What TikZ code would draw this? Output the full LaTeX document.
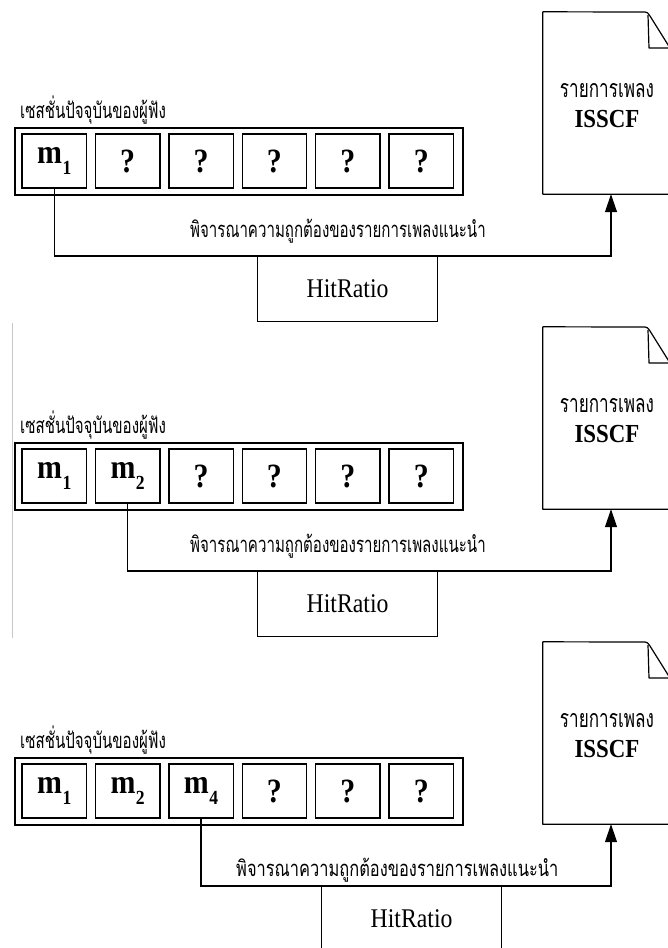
\documentclass[tikz,border=0pt]{standalone}
\usepackage{fontspec}
\usepackage{graphicx}
\setmainfont{Liberation Serif}[FakeStretch=0.88]
\newfontfamily\thaifont[Script=Thai,FakeStretch=0.685]{Loma}
\usetikzlibrary{arrows.meta}

% cell with a bold m and a subscript index
\newcommand\mcell[1]{\textbf{m}\kern0.5pt\raisebox{-0.33em}{\fontsize{20}{20}\selectfont\textbf{#1}}}

\tikzset{
  cellbox/.style={draw, line width=1.4pt, minimum width=64.5pt, minimum height=54pt,
    inner sep=0pt, font=\fontsize{34}{34}\selectfont\bfseries},
  sessbox/.style={draw, line width=1.5pt, minimum width=448pt, minimum height=67pt, inner sep=0pt},
  hitbox/.style={draw, line width=1.2pt, minimum width=180pt, minimum height=65pt, inner sep=0pt,
    font=\fontsize{27}{27}\selectfont},
  thaismall/.style={font=\thaifont\fontsize{22}{22}\selectfont, inner sep=0pt},
  thaidoc/.style={font=\thaifont\fontsize{25}{25}\selectfont, inner sep=0pt},
  conn/.style={line width=1.2pt},
  docline/.style={line width=1.2pt, line join=round},
}

% #1 id, #2 vertical offset, #3 cell contents, #4 source cell,
% #5 label x, #6 label baseline, #7 left edge of the HitRatio box,
% #8 horizontal scale of the connector label
\newcommand\drawpanel[8]{%
  \begin{scope}[shift={(0,#2)}]
    \node[thaismall, anchor=base west] (t#1) at (20,118) {เซสชั่นปัจจุบันของผู้ฟัง};
    \node[sessbox] (s#1) at (239,161.5) {};
    \foreach \c [count=\i] in {#3} {
      \node[cellbox] (c#1-\i) at ({54.25+73.4*(\i-1)},161) {\c};
    }
    % document with folded corner
    \node[minimum width=127pt, minimum height=182pt, inner sep=0pt] (d#1) at (606.5,103) {};
    \draw[docline] (d#1.south west) -- (d#1.north west) -- (645,12)
      .. controls (647,12) and (648,13) .. (650,16) -- (670,48) -- (d#1.south east) -- cycle;
    \draw[docline] (648,15) -- (649,48) -- (670,48);
    \node[thaidoc, anchor=base] (dt#1) at (607,97) {รายการเพลง};
    \node[anchor=base, inner sep=0pt, font=\fontsize{26}{26}\selectfont\bfseries] (di#1) at (607,127) {ISSCF};
    % connector from the selected cell to the document
    \coordinate (k#1) at (611,256);
    \draw[conn, -{Triangle[length=18pt,width=12pt]}] (c#1-#4.south) |- (k#1) -- (k#1 |- d#1.south);
    \node[thaismall, anchor=base west] (l#1) at (#5,#6)
      {\scalebox{#8}[1]{พิจารณาความถูกต้องของรายการเพลงแนะนำ}};
    \node[hitbox, anchor=north west] (h#1) at (#7,256) {HitRatio};
  \end{scope}%
}

\begin{document}
\begin{tikzpicture}[x=1pt, y=-1pt]
  \useasboundingbox[fill=white] (0,0) rectangle (667,948);
  \draw[black!22, line width=0.8pt] (12,323) -- (12,638);
  \drawpanel{1}{0}{\mcell{1},?,?,?,?,?}{1}{190}{237}{257}{1}
  \drawpanel{2}{315}{\mcell{1},\mcell{2},?,?,?,?}{2}{190}{237}{257}{1}
  \drawpanel{3}{630}{\mcell{1},\mcell{2},\mcell{4},?,?,?}{3}{236}{246}{321}{1.09}
\end{tikzpicture}
\end{document}
